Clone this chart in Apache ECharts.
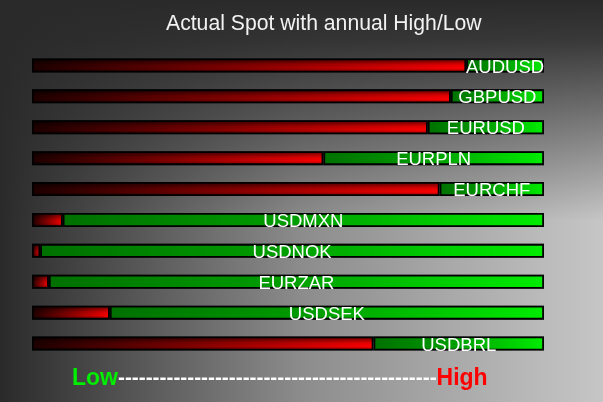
<!DOCTYPE html>
<html><head><meta charset="utf-8">
<script src="https://cdn.jsdelivr.net/npm/echarts@6/dist/echarts.min.js"></script>
<style>html,body{margin:0;padding:0;background:#2a2a2a}#c{width:603px;height:402px}</style>
</head><body><div id="c"></div>
<script>
const categories = ['AUDUSD','GBPUSD','EURUSD','EURPLN','EURCHF','USDMXN','USDNOK','EURZAR','USDSEK','USDBRL'];
// position of the spot within the annual range, percent from high (left) to low (right)
const spotPosition = [84.8, 81.8, 77.3, 56.9, 79.6, 6.0, 1.6, 3.3, 15.2, 66.7];
const rangeTotal = 100;
const remaining = spotPosition.map(v => +(rangeTotal - v).toFixed(1));
const fullRange = categories.map(() => rangeTotal);

const chart = echarts.init(document.getElementById('c'));
const lg = (x, y, x2, y2, stops) => new echarts.graphic.LinearGradient(x, y, x2, y2, stops);

chart.setOption({
  animation: false,
  backgroundColor: lg(0, 0, 1, 0, [
    {offset: 0, color: '#2a2a2a'}, {offset: 0.5, color: '#8c8c8c'}, {offset: 1, color: '#c6c6c6'}
  ]),
  graphic: [
    {type: 'rect', left: 0, top: 0, z: -10, shape: {width: 603, height: 402},
     style: {fill: lg(0, 0, 0, 1, [
       {offset: 0, color: 'rgba(42,42,42,1)'},
       {offset: 0.1, color: 'rgba(42,42,42,0.9)'},
       {offset: 0.55, color: 'rgba(42,42,42,0)'},
       {offset: 1, color: 'rgba(42,42,42,0)'}
     ])}, silent: true},
    {type: 'text', left: 72, top: 367, z: 10,
     style: {
       text: '{low|Low}{dash|' + '-'.repeat(46) + '}{high|High}',
       rich: {
         low: {fontFamily: 'Liberation Sans, Arial', fontWeight: 'bold', fontSize: 23, fill: '#00ee00'},
         dash: {fontFamily: 'Liberation Sans, Arial', fontWeight: 'bold', fontSize: 20.8, fill: '#ffffff'},
         high: {fontFamily: 'Liberation Sans, Arial', fontWeight: 'bold', fontSize: 23, fill: '#ff0000'}
       }
     }}
  ],
  title: {
    text: 'Actual Spot with annual High/Low',
    left: 161, top: 9,
    textStyle: {color: '#f2f2f2', fontSize: 21.2, fontWeight: 'normal', fontFamily: 'Liberation Sans, Arial'}
  },
  grid: {left: 32, right: 59, top: 50, bottom: 43, containLabel: false},
  xAxis: {type: 'value', min: 0, max: rangeTotal, show: false},
  yAxis: {type: 'category', data: categories, inverse: true, show: false},
  series: [
    {
      type: 'bar', stack: 'a', barWidth: 14, data: spotPosition,
      itemStyle: {
        borderColor: '#000', borderWidth: 1.8,
        color: lg(0, 0, 1, 0, [
          {offset: 0, color: '#1e0000'}, {offset: 0.5, color: '#8a0000'}, {offset: 1, color: '#ff0000'}
        ])
      }
    },
    {
      type: 'bar', stack: 'a', barWidth: 14, data: remaining,
      itemStyle: {
        borderColor: '#000', borderWidth: 1.8,
        color: lg(0, 0, 1, 0, [
          {offset: 0, color: '#007000'}, {offset: 0.5, color: '#00a000'}, {offset: 1, color: '#00ec00'}
        ])
      },
      label: {
        show: true, position: 'inside', offset: [0, 2],
        formatter: p => p.name,
        color: '#ffffff', fontSize: 18.5, fontFamily: 'Liberation Sans, Arial',
        textBorderWidth: 0
      },
      z: 3
    },
    {
      type: 'bar', stack: 'b', barWidth: 14, barGap: '-100%', data: fullRange, silent: true,
      itemStyle: {
        color: lg(0, 0, 0, 1, [
          {offset: 0, color: 'rgba(0,0,0,0.65)'},
          {offset: 0.45, color: 'rgba(0,0,0,0.1)'},
          {offset: 0.7, color: 'rgba(0,0,0,0)'},
          {offset: 1, color: 'rgba(0,0,0,0.45)'}
        ])
      },
      z: 2
    }
  ]
});
</script></body></html>
